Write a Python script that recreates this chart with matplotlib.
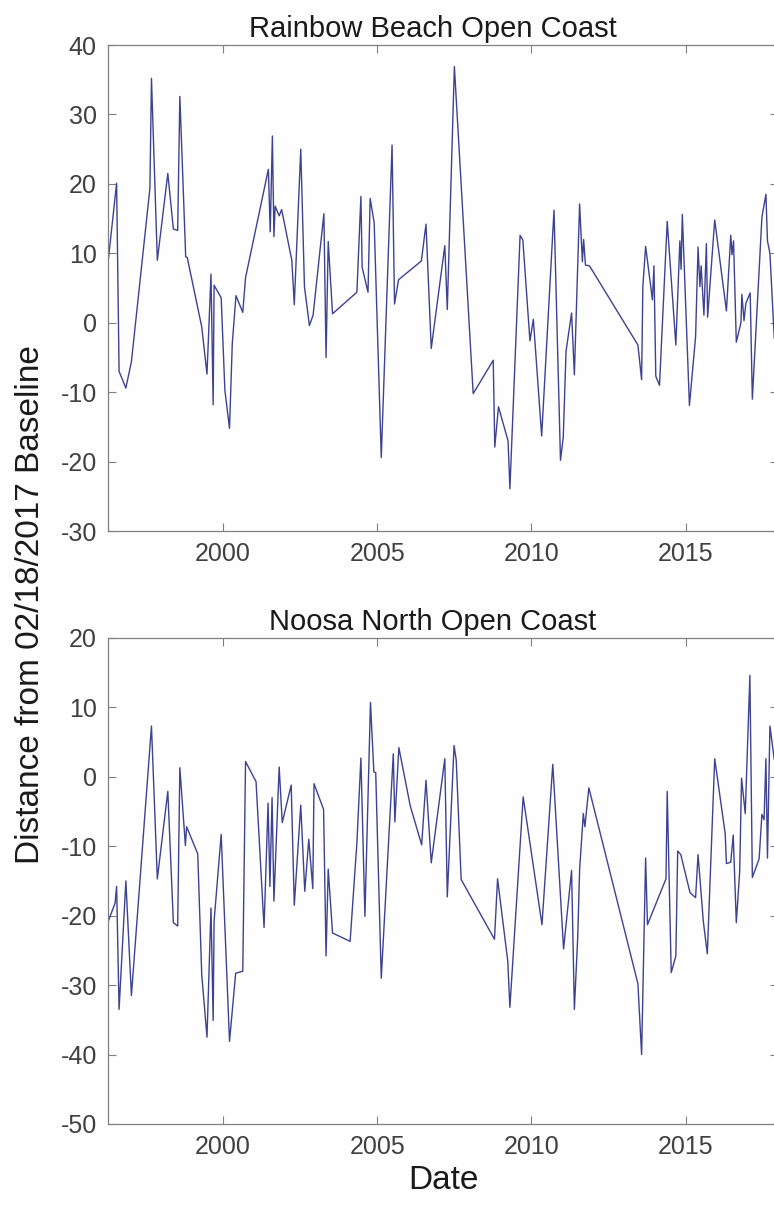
import numpy as np
import matplotlib.pyplot as plt

plt.rcParams['font.family'] = ['Liberation Sans', 'DejaVu Sans']
plt.rcParams['axes.unicode_minus'] = False

# shoreline position time series (decimal year, metres from baseline)
rainbow_t = [1996.28, 1996.55, 1996.63, 1996.85, 1997.03, 1997.63, 1997.68, 1997.87,
             1998.21, 1998.39, 1998.53, 1998.60, 1998.79, 1998.84, 1999.31, 1999.48,
             1999.61, 1999.68, 1999.71, 1999.94, 2000.06, 2000.21, 2000.30, 2000.42,
             2000.64, 2000.73, 2001.47, 2001.53, 2001.60, 2001.65, 2001.69, 2001.82,
             2001.90, 2002.23, 2002.31, 2002.52, 2002.64, 2002.80, 2002.92, 2003.27,
             2003.34, 2003.41, 2003.55, 2004.34, 2004.47, 2004.51, 2004.70, 2004.77,
             2004.90, 2005.13, 2005.48, 2005.56, 2005.69, 2006.43, 2006.58, 2006.75,
             2007.19, 2007.27, 2007.50, 2008.11, 2008.76, 2008.81, 2008.93, 2009.24,
             2009.30, 2009.63, 2009.72, 2009.95, 2010.06, 2010.33, 2010.73, 2010.94,
             2011.03, 2011.12, 2011.30, 2011.39, 2011.56, 2011.65, 2011.69, 2011.75,
             2011.88, 2013.45, 2013.57, 2013.61, 2013.70, 2013.92, 2013.97, 2014.03,
             2014.15, 2014.40, 2014.68, 2014.81, 2014.85, 2014.89, 2015.12, 2015.32,
             2015.40, 2015.46, 2015.50, 2015.59, 2015.67, 2015.71, 2015.94, 2016.32,
             2016.46, 2016.50, 2016.55, 2016.64, 2016.79, 2016.82, 2016.89, 2016.95,
             2017.09, 2017.16, 2017.47, 2017.60, 2017.65, 2017.73, 2017.87]
rainbow_d = [9.0, 20.1, -7.0, -9.4, -5.6, 19.4, 35.2, 9.0,
             21.5, 13.5, 13.3, 32.6, 9.5, 9.4, -0.6, -7.4,
             7.0, -11.8, 5.4, 3.6, -9.7, -15.2, -3.0, 3.9,
             1.5, 6.5, 22.1, 13.1, 26.9, 12.4, 16.8, 15.4,
             16.3, 9.0, 2.6, 25.0, 5.2, -0.4, 1.1, 15.7,
             -5.0, 11.7, 1.3, 4.4, 18.2, 8.0, 4.4, 17.9,
             14.4, -19.4, 25.6, 2.7, 6.2, 8.9, 14.2, -3.7,
             11.1, 1.9, 36.9, -10.2, -5.4, -17.9, -12.1, -17.0,
             -23.9, 12.6, 11.9, -2.6, 0.5, -16.3, 16.2, -19.8,
             -16.5, -4.1, 1.4, -7.5, 17.1, 8.8, 12.0, 8.3,
             8.2, -3.2, -8.2, 5.2, 11.0, 3.3, 8.2, -7.7,
             -9.0, 14.6, -3.2, 11.8, 7.7, 15.6, -11.9, -2.0,
             10.9, 5.2, 8.2, 1.1, 11.4, 0.8, 14.8, 1.7,
             12.6, 9.8, 11.8, -2.8, 0.0, 4.1, 0.3, 2.8,
             4.3, -11.0, 15.2, 18.5, 11.8, 10.0, -2.2]

noosa_t = [1996.28, 1996.50, 1996.55, 1996.63, 1996.85, 1997.03, 1997.68, 1997.87,
           1998.21, 1998.39, 1998.53, 1998.60, 1998.78, 1998.82, 1999.18, 1999.31,
           1999.48, 1999.61, 1999.68, 1999.71, 1999.94, 2000.21, 2000.41, 2000.64,
           2000.73, 2001.07, 2001.33, 2001.46, 2001.52, 2001.59, 2001.65, 2001.82,
           2001.92, 2002.21, 2002.31, 2002.52, 2002.65, 2002.78, 2002.91, 2002.95,
           2003.26, 2003.34, 2003.41, 2003.55, 2004.12, 2004.34, 2004.47, 2004.60,
           2004.78, 2004.89, 2004.95, 2005.13, 2005.52, 2005.57, 2005.70, 2006.07,
           2006.44, 2006.58, 2006.75, 2007.19, 2007.27, 2007.49, 2007.56, 2007.72,
           2008.80, 2008.90, 2009.23, 2009.30, 2009.73, 2010.34, 2010.69, 2011.04,
           2011.30, 2011.39, 2011.50, 2011.56, 2011.68, 2011.73, 2011.86, 2013.45,
           2013.57, 2013.70, 2013.76, 2014.36, 2014.40, 2014.53, 2014.68, 2014.74,
           2014.84, 2015.14, 2015.32, 2015.40, 2015.57, 2015.70, 2015.94, 2016.28,
           2016.32, 2016.46, 2016.54, 2016.64, 2016.75, 2016.81, 2016.93, 2017.08,
           2017.16, 2017.38, 2017.47, 2017.54, 2017.60, 2017.65, 2017.73, 2017.87]
noosa_d = [-20.8, -18.2, -15.8, -33.5, -15.0, -31.5, 7.3, -14.7,
           -2.1, -21.0, -21.5, 1.3, -9.9, -7.2, -11.1, -28.5,
           -37.5, -18.9, -35.1, -20.8, -8.3, -38.1, -28.3, -28.0,
           2.2, -0.7, -21.7, -3.8, -15.8, -3.0, -17.9, 1.4,
           -6.6, -1.2, -18.5, -4.1, -16.5, -9.0, -16.1, -1.0,
           -4.7, -25.8, -13.3, -22.5, -23.7, -9.5, 2.7, -20.1,
           10.7, 0.7, 0.6, -29.0, 3.3, -6.5, 4.2, -4.2,
           -9.8, -0.5, -12.4, 2.6, -17.3, 4.5, 2.4, -14.8,
           -23.4, -14.7, -26.5, -33.2, -2.9, -21.3, 1.8, -24.8,
           -13.5, -33.5, -23.0, -13.4, -5.3, -7.2, -1.6, -29.8,
           -40.0, -11.7, -21.3, -14.7, -2.1, -28.2, -25.8, -10.7,
           -11.2, -16.7, -17.4, -11.2, -20.8, -25.5, 2.6, -8.2,
           -12.5, -12.3, -8.4, -21.0, -13.6, -0.2, -5.3, 14.6,
           -14.5, -11.8, -5.4, -6.2, 2.6, -11.7, 7.3, 2.5]

titles = ['Rainbow Beach Open Coast', 'Noosa North Open Coast']
ylims = [(-30, 40), (-50, 20)]
xticks = [2000, 2005, 2010, 2015]

line_col = '#3d4291'
axis_col = '#808080'
tick_col = '#404040'

fig = plt.figure(figsize=(7.74, 12.07), dpi=100)
fig.patch.set_facecolor('#fefefe')

# axes run a few pixels past the right edge of the canvas
boxes = [[0.1395, 0.560, 0.866, 0.4027],
         [0.1395, 0.0688, 0.866, 0.4027]]
series = [(rainbow_t, rainbow_d), (noosa_t, noosa_d)]

for box, (t, d), title, yl in zip(boxes, series, titles, ylims):
    ax = fig.add_axes(box)
    ax.set_facecolor('#fefefe')
    ax.plot(t, d, color=line_col, lw=1.0)
    ax.set_xlim(1996.27, 2018.0)
    ax.set_ylim(*yl)
    ax.set_xticks(xticks)
    ax.set_yticks(np.arange(yl[0], yl[1] + 1, 10))
    ax.tick_params(direction='in', length=6, width=0.8, colors=axis_col,
                   labelcolor=tick_col, labelsize=18, top=True, right=True, pad=8)
    for s in ax.spines.values():
        s.set_color(axis_col)
        s.set_linewidth(0.9)
    ax.set_title(title, fontsize=21, color='#1a1a1a', x=0.485, pad=6)

fig.axes[1].set_xlabel('Date', fontsize=24, color='#1a1a1a', labelpad=4)
fig.text(0.040, 0.499, 'Distance from 02/18/2017 Baseline', rotation=90,
         fontsize=24, color='#1a1a1a', ha='center', va='center')

fig.savefig('out.png', dpi=100, facecolor=fig.get_facecolor())
